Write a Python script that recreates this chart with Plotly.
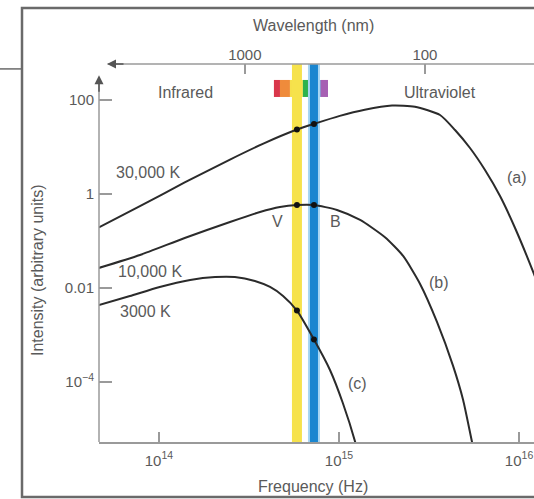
import math
import plotly.graph_objects as go

# ---------------- data ----------------
# Curve (a): 30,000 K
freq_a = [4.64e13, 7.84e13, 1.39e14, 2.48e14, 3.80e14, 5.84e14, 7.26e14, 1.01e15, 1.39e15,
          1.97e15, 2.64e15, 3.64e15, 4.41e15, 5.34e15, 6.47e15, 7.84e15, 9.50e15, 1.21e16, 1.39e16]
inten_a = [0.195, 0.55, 1.76, 5.4, 11.8, 23.5, 31.0, 46.0, 62.0,
           76.0, 72.0, 48.0, 23.0, 9.52, 3.24, 0.906, 0.189, 0.0199, 0.0048]

# Curve (b): 10,000 K
freq_b = [4.64e13, 7.84e13, 1.39e14, 2.48e14, 3.64e14, 4.70e14, 5.84e14, 7.26e14, 9.75e14,
          1.31e15, 1.80e15, 2.27e15, 2.82e15, 3.50e15, 4.30e15, 4.89e15, 5.48e15, 5.77e15]
inten_b = [0.0267, 0.0504, 0.116, 0.2535, 0.414, 0.529, 0.583, 0.583, 0.457,
           0.280, 0.120, 0.048, 0.0122, 0.0019, 2.2e-4, 4.14e-5, 5.28e-6, 2.19e-6]

# Curve (c): 3000 K
freq_c = [4.64e13, 6.90e13, 1.01e14, 1.49e14, 2.05e14, 2.64e14, 3.41e14, 4.14e14, 4.89e14,
          5.84e14, 7.26e14, 8.91e14, 1.05e15, 1.23e15, 1.28e15]
inten_c = [0.00434, 0.00676, 0.0105, 0.0148, 0.0171, 0.0171, 0.0141, 0.0105, 0.00676,
           0.0033, 8.0e-4, 1.80e-4, 3.57e-5, 5.28e-6, 2.80e-6]

# V and B filter frequencies and the marked intersections
filter_freq = {"V": 5.84e14, "B": 7.26e14}
dot_freq = [5.84e14, 7.26e14, 5.84e14, 7.26e14, 5.84e14, 7.26e14]
dot_inten = [23.5, 31.0, 0.583, 0.583, 0.0033, 8.0e-4]

# visible spectrum strip (frequency boundaries, colours)
spectrum_edges = [4.35e14, 4.70e14, 5.34e14, 6.30e14, 6.81e14, 7.90e14, 8.69e14]
spectrum_colors = ["#d9374b", "#ef8b3b", "#f6e04b", "#2db24d", "#1a86d0", "#a660b3"]
spectrum_inten = [116.0, 267.0]

# axes
x_ticks = [1e14, 1e15, 1e16]
x_ticktext = ["10<sup>14</sup>", "10<sup>15</sup>", "10<sup>16</sup>"]
y_ticks = [100, 1, 0.01, 1e-4]
y_ticktext = ["100", "1", "0.01", "10<sup>−4</sup>"]
wl_ticks_freq = [3e14, 3e15]
wl_ticktext = ["1000", "100"]

X_RANGE = [13.667, 16.083]
Y_RANGE = [-5.277, 2.766]

FONT = "Liberation Sans, Arial, Helvetica, sans-serif"
TXT = "#5a5a5a"
AX = "#9a9a9a"
CURVE = "#2b2b2b"
LBL = 16
TICK = 15

fig = go.Figure()

ylo, yhi = 10 ** Y_RANGE[0], 10 ** Y_RANGE[1]

# spectrum strip
for i, col in enumerate(spectrum_colors):
    f0, f1 = spectrum_edges[i], spectrum_edges[i + 1]
    fig.add_trace(go.Scatter(x=[f0, f1, f1, f0, f0],
                             y=[spectrum_inten[0]] * 2 + [spectrum_inten[1]] * 2 + [spectrum_inten[0]],
                             fill="toself", fillcolor=col, line=dict(width=0), mode="lines",
                             hoverinfo="skip", showlegend=False))

# filter bands
fig.add_trace(go.Scatter(x=[filter_freq["V"]] * 2, y=[ylo, yhi], mode="lines",
                         line=dict(color="#f6e24c", width=10), showlegend=False, hoverinfo="skip"))
fig.add_trace(go.Scatter(x=[filter_freq["B"]] * 2, y=[ylo, yhi], mode="lines",
                         line=dict(color="#a8d6f3", width=12), showlegend=False, hoverinfo="skip"))
fig.add_trace(go.Scatter(x=[filter_freq["B"]] * 2, y=[ylo, yhi], mode="lines",
                         line=dict(color="#1a86d0", width=8), showlegend=False, hoverinfo="skip"))

# curves
for fx, iy in [(freq_a, inten_a), (freq_b, inten_b), (freq_c, inten_c)]:
    fig.add_trace(go.Scatter(x=fx, y=iy, mode="lines",
                             line=dict(color=CURVE, width=2, shape="spline", smoothing=0.6),
                             showlegend=False, hoverinfo="skip"))

fig.add_trace(go.Scatter(x=dot_freq, y=dot_inten, mode="markers",
                         marker=dict(color="#111111", size=6), showlegend=False, hoverinfo="skip"))

# invisible trace for top axis
fig.add_trace(go.Scatter(x=wl_ticks_freq, y=[1, 1], xaxis="x2", mode="markers",
                         marker=dict(opacity=0), showlegend=False, hoverinfo="skip"))

L = math.log10
labels = [
    ("30,000 K", 8.69e13, 2.8),
    ("10,000 K", 8.9e13, 0.0219),
    ("3000 K", 8.47e13, 0.0031),
    ("V", 4.58e14, 0.254),
    ("B", 9.6e14, 0.254),
    ("(a)", 9.75e15, 2.19),
    ("(b)", 3.6e15, 0.0134),
    ("(c)", 1.26e15, 9.5e-5),
    ("Infrared", 1.41e14, 141.0),
    ("Ultraviolet", 3.64e15, 141.0),
]
ann = []
for t, fx, iy in labels:
    ann.append(dict(x=L(fx), y=L(iy), xref="x", yref="y", text=t, showarrow=False,
                    xanchor="center", yanchor="middle",
                    font=dict(family=FONT, size=LBL, color=TXT)))

ann += [
    dict(x=0.492, y=1.103, xref="paper", yref="paper", text="Wavelength (nm)", showarrow=False,
         xanchor="center", yanchor="middle", font=dict(family=FONT, size=LBL, color=TXT)),
    dict(x=0.492, y=-0.119, xref="paper", yref="paper", text="Frequency (Hz)", showarrow=False,
         xanchor="center", yanchor="middle", font=dict(family=FONT, size=LBL, color=TXT)),
    dict(x=-0.1425, y=0.455, xref="paper", yref="paper", text="Intensity (arbitrary units)",
         showarrow=False, textangle=-90, xanchor="center", yanchor="middle",
         font=dict(family=FONT, size=LBL, color=TXT)),
    # arrow heads
    dict(x=0.0184, y=1.0, xref="paper", yref="paper", ax=18, ay=0, text="", showarrow=True,
         arrowhead=2, arrowsize=1.2, arrowwidth=1.5, arrowcolor="#555555"),
    dict(x=0.0, y=0.97, xref="paper", yref="paper", ax=0, ay=18, text="", showarrow=True,
         arrowhead=2, arrowsize=1.2, arrowwidth=1.5, arrowcolor="#555555"),
]

shapes = [
    dict(type="line", xref="paper", yref="paper", x0=0.02, x1=1.05, y0=1.0, y1=1.0,
         line=dict(color=AX, width=1.5)),
    dict(type="line", xref="paper", yref="paper", x0=0.0, x1=0.0, y0=0.0, y1=0.965,
         line=dict(color=AX, width=1.5)),
    dict(type="rect", xref="paper", yref="paper", x0=-0.177, x1=1.05, y0=-0.1455, y1=1.148,
         line=dict(color="#6a6a6a", width=2.5)),
    dict(type="line", xref="paper", yref="paper", x0=-0.23, x1=-0.177, y0=0.987, y1=0.987,
         line=dict(color="#6a6a6a", width=1.5)),
]

fig.update_layout(
    width=534, height=499,
    margin=dict(l=99, r=0, t=64, b=57),
    paper_bgcolor="white", plot_bgcolor="white",
    showlegend=False,
    annotations=ann, shapes=shapes,
    xaxis=dict(type="log", range=X_RANGE, tickvals=x_ticks, ticktext=x_ticktext,
               ticks="inside", ticklen=10, tickwidth=1.5, tickcolor=AX,
               showline=True, linecolor=AX, linewidth=1.5, showgrid=False, zeroline=False,
               ticklabelstandoff=4, tickfont=dict(family=FONT, size=TICK, color=TXT)),
    xaxis2=dict(type="log", range=X_RANGE, overlaying="x", side="top", anchor="y",
                tickvals=wl_ticks_freq, ticktext=wl_ticktext,
                ticks="inside", ticklen=10, tickwidth=1.5, tickcolor=AX,
                showline=False, showgrid=False, zeroline=False,
                tickfont=dict(family=FONT, size=TICK, color=TXT)),
    yaxis=dict(type="log", range=Y_RANGE, tickvals=y_ticks, ticktext=y_ticktext,
               ticks="inside", ticklen=13, tickwidth=1.5, tickcolor=AX,
               showline=False, showgrid=False, zeroline=False,
               ticklabelstandoff=4, tickfont=dict(family=FONT, size=TICK, color=TXT)),
)

fig.write_html("out.html")
